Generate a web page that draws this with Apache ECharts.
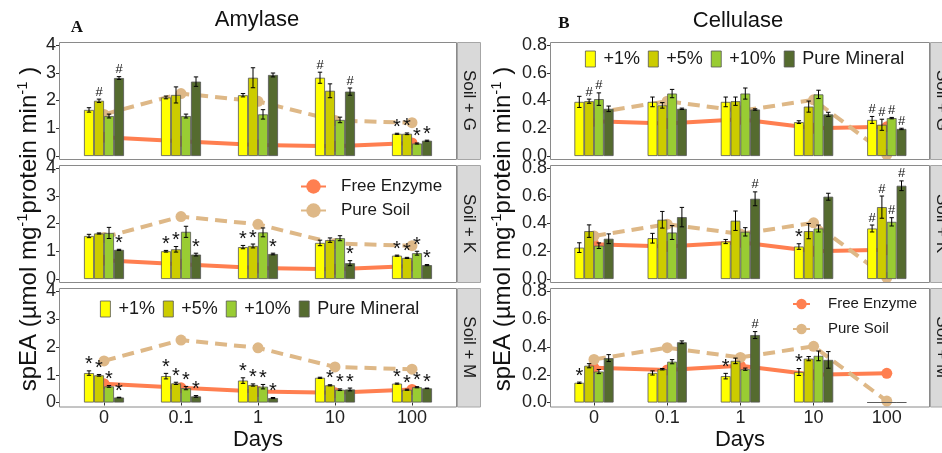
<!DOCTYPE html>
<html><head><meta charset="utf-8">
<script src="https://cdn.jsdelivr.net/npm/echarts@6/dist/echarts.min.js"></script>
<style>html,body{margin:0;padding:0;background:#fff}#c{width:942px;height:453px}</style>
</head><body><div id="c"></div>
<script>
// ---------- data ----------
const days = ['0', '0.1', '1', '10', '100'];
const mixes = ['+1%', '+5%', '+10%', 'Pure Mineral'];
const lineNames = ['Free Enzyme', 'Pure Soil'];
const rowLabels = ['Soil + G', 'Soil + K', 'Soil + M'];
const amyTicks = [0, 1, 2, 3, 4];
const celTicks = [0, 0.2, 0.4, 0.6, 0.8];

const amyFree = [0.68, 0.53, 0.40, 0.35, 0.47];
const amySoil = [1.50, 2.25, 1.97, 1.28, 1.20];
const celFree = [0.25, 0.235, 0.265, 0.20, 0.21];
const celSoil = [0.31, 0.395, 0.325, 0.405, 0.01];

// rows: +1%, +5%, +10%, Pure Mineral ; columns: days
const amyG_val = [[1.66, 2.11, 2.19, 2.82, 0.80],[1.99, 2.20, 2.82, 2.35, 0.80],[1.44, 1.44, 1.50, 1.30, 0.45],[2.81, 2.68, 2.92, 2.32, 0.55]];
const amyG_err = [[0.08, 0.05, 0.06, 0.20, 0.02],[0.06, 0.29, 0.36, 0.25, 0.03],[0.07, 0.07, 0.17, 0.10, 0.02],[0.05, 0.17, 0.07, 0.13, 0.02]];
const amyG_mark = [['', '', '', '#', '*'],['#', '', '', '', '*'],['', '', '', '', '*'],['#', '', '', '#', '*']];

const amyK_val = [[1.55, 1.00, 1.15, 1.30, 0.84],[1.64, 1.07, 1.19, 1.40, 0.76],[1.66, 1.70, 1.68, 1.47, 0.93],[1.05, 0.88, 0.90, 0.57, 0.50]];
const amyK_err = [[0.06, 0.03, 0.06, 0.10, 0.02],[0.02, 0.10, 0.07, 0.08, 0.02],[0.20, 0.20, 0.16, 0.09, 0.07],[0.02, 0.05, 0.03, 0.09, 0.02]];
const amyK_mark = [['', '*', '*', '', '*'],['', '*', '*', '', '*'],['', '', '', '', '*'],['*', '*', '*', '*', '*']];

const amyM_val = [[1.06, 0.95, 0.79, 0.89, 0.68],[0.98, 0.69, 0.63, 0.62, 0.46],[0.58, 0.52, 0.57, 0.46, 0.55],[0.18, 0.22, 0.16, 0.47, 0.51]];
const amyM_err = [[0.08, 0.10, 0.10, 0.02, 0.02],[0.03, 0.04, 0.04, 0.02, 0.02],[0.03, 0.06, 0.08, 0.03, 0.02],[0.01, 0.03, 0.02, 0.05, 0.01]];
const amyM_mark = [['*', '*', '*', '', '*'],['*', '*', '*', '*', '*'],['*', '*', '*', '*', '*'],['*', '*', '*', '*', '*']];

const celG_val = [[0.39, 0.39, 0.39, 0.244, 0.26],[0.395, 0.365, 0.395, 0.356, 0.225],[0.41, 0.45, 0.45, 0.444, 0.273],[0.34, 0.34, 0.335, 0.30, 0.195]];
const celG_err = [[0.04, 0.035, 0.035, 0.01, 0.025],[0.015, 0.02, 0.03, 0.04, 0.04],[0.045, 0.03, 0.04, 0.03, 0.005],[0.02, 0.005, 0.005, 0.015, 0.005]];
const celG_mark = [['', '', '', '', '#'],['#', '', '', '', '#'],['#', '', '', '', '#'],['', '', '', '', '#']];

const celK_val = [[0.226, 0.294, 0.27, 0.234, 0.364],[0.345, 0.427, 0.42, 0.345, 0.518],[0.24, 0.335, 0.34, 0.364, 0.412],[0.29, 0.446, 0.578, 0.593, 0.672]];
const celK_err = [[0.035, 0.035, 0.015, 0.02, 0.025],[0.045, 0.06, 0.07, 0.055, 0.08],[0.02, 0.05, 0.03, 0.025, 0.03],[0.035, 0.07, 0.05, 0.025, 0.035]];
const celK_mark = [['', '', '', '*', '#'],['', '', '', '', '#'],['', '', '', '', '#'],['', '', '#', '', '#']];

const celM_val = [[0.142, 0.213, 0.19, 0.22, 0],[0.265, 0.24, 0.30, 0.316, 0],[0.223, 0.294, 0.24, 0.336, 0],[0.32, 0.434, 0.486, 0.307, 0]];
const celM_err = [[0.005, 0.015, 0.02, 0.025, 0],[0.015, 0.005, 0.02, 0.015, 0],[0.015, 0.015, 0.008, 0.035, 0],[0.025, 0.01, 0.025, 0.06, 0]];
const celM_mark = [['*', '', '*', '*', ''],['', '', '', '', ''],['', '', '', '', ''],['', '', '#', '', '']];

// ---------- styling / layout ----------
const FONT = '"Liberation Sans", Arial, sans-serif';
const barColors = ['#FFFF00', '#CCCC00', '#99CC33', '#556B2F'];
const freeColor = '#FF7F50', soilColor = '#DEB887';
const cols = [
  {gridLeft: 65.5, gridWidth: 385, frameLeft: 59, frameWidth: 397, stripX: 457, bw: 10, max: 4, interval: 1, yOff: 6.5, ticks: amyTicks, dec: 0, free: amyFree, soil: amySoil},
  {gridLeft: 557.4, gridWidth: 366, frameLeft: 550, frameWidth: 379, stripX: 930, bw: 9.8, max: 0.8, interval: 0.2, yOff: 7.4, ticks: celTicks, dec: 1, free: celFree, soil: celSoil}
];
const rows = [
  {gridTop: 45, frameTop: 42, frameH: 117},
  {gridTop: 168, frameTop: 165, frameH: 117},
  {gridTop: 291.5, frameTop: 288, frameH: 118.5}
];
const panels = [
  {c: 0, r: 0, val: amyG_val, err: amyG_err, mark: amyG_mark},
  {c: 0, r: 1, val: amyK_val, err: amyK_err, mark: amyK_mark},
  {c: 0, r: 2, val: amyM_val, err: amyM_err, mark: amyM_mark},
  {c: 1, r: 0, val: celG_val, err: celG_err, mark: celG_mark},
  {c: 1, r: 1, val: celK_val, err: celK_err, mark: celK_mark},
  {c: 1, r: 2, val: celM_val, err: celM_err, mark: celM_mark}
];

const grid = [], xAxis = [], yAxis = [], series = [], graphic = [];
panels.forEach((p, i) => {
  const C = cols[p.c], R = rows[p.r];
  const bottomRow = p.r === 2;
  grid.push({left: C.gridLeft, width: C.gridWidth, top: R.gridTop, height: 111, containLabel: false, outerBoundsMode: 'none'});
  xAxis.push({type: 'category', gridIndex: i, data: days, boundaryGap: true, offset: bottomRow ? 3.5 : 0,
    axisLine: {show: false}, splitLine: {show: false},
    axisTick: {show: bottomRow, alignWithLabel: true, length: 3, lineStyle: {color: '#333'}},
    axisLabel: {show: bottomRow, fontSize: 18, fontFamily: FONT, color: '#222', margin: 3}});
  yAxis.push({type: 'value', gridIndex: i, min: 0, max: C.max, interval: C.interval, offset: C.yOff,
    axisLine: {show: false}, splitLine: {show: false},
    axisTick: {show: true, length: 3, lineStyle: {color: '#333'}},
    axisLabel: {fontSize: 18, fontFamily: FONT, color: '#222', margin: 3, formatter: v => v.toFixed(C.dec)}});
  // lines (behind bars)
  series.push({type: 'line', name: lineNames[0], xAxisIndex: i, yAxisIndex: i, data: C.free, z: 1,
    symbol: 'circle', symbolSize: 11, itemStyle: {color: freeColor}, lineStyle: {color: freeColor, width: 4}, silent: true});
  series.push({type: 'line', name: lineNames[1], xAxisIndex: i, yAxisIndex: i, data: C.soil, z: 1,
    symbol: 'circle', symbolSize: 11, itemStyle: {color: soilColor}, lineStyle: {color: soilColor, width: 4, type: [12, 7]}, silent: true});
  // bars
  mixes.forEach((m, s) => {
    series.push({type: 'bar', name: m, xAxisIndex: i, yAxisIndex: i, data: p.val[s], barWidth: C.bw, barGap: '0%', z: 2,
      itemStyle: {color: barColors[s], borderColor: '#555', borderWidth: 0.8}, silent: true});
  });
  // error bars and significance marks
  const ed = [];
  p.val.forEach((arr, s) => arr.forEach((v, d) => ed.push([d, s, v, p.err[s][d]])));
  series.push({type: 'custom', xAxisIndex: i, yAxisIndex: i, z: 3, silent: true, data: ed,
    encode: {x: 0, y: 2},
    renderItem: (params, api) => {
      const d = api.value(0), s = api.value(1), v = api.value(2), e = api.value(3);
      const off = (s - 1.5) * C.bw;
      const top = api.coord([d, v + e]), bot = api.coord([d, v - e]);
      const x = top[0] + off;
      const ch = [];
      if (e > 0) {
        const ls = {stroke: '#000', lineWidth: 1};
        ch.push({type: 'line', shape: {x1: x, y1: top[1], x2: x, y2: bot[1]}, style: ls});
        ch.push({type: 'line', shape: {x1: x - 2.2, y1: top[1], x2: x + 2.2, y2: top[1]}, style: ls});
        ch.push({type: 'line', shape: {x1: x - 2.2, y1: bot[1], x2: x + 2.2, y2: bot[1]}, style: ls});
      }
      const mk = p.mark[s][d];
      if (mk === '*') {
        ch.push({type: 'text', style: {text: '*', x: x, y: top[1] - 6, align: 'center', verticalAlign: 'middle', fontSize: 20, fontFamily: FONT, fill: '#111'}});
      } else if (mk === '#') {
        ch.push({type: 'text', style: {text: '#', x: x, y: top[1] - 7, align: 'center', verticalAlign: 'middle', fontSize: 13, fontFamily: FONT, fill: '#111'}});
      }
      return {type: 'group', children: ch};
    }});
  // frame
  graphic.push({type: 'rect', z: 50, silent: true, shape: {x: C.frameLeft + 0.5, y: R.frameTop + 0.5, width: C.frameWidth, height: R.frameH},
    style: {fill: 'none', stroke: '#8a8a8a', lineWidth: 1}});
  // strip
  graphic.push({type: 'rect', z: 50, silent: true, shape: {x: C.stripX + 0.5, y: R.frameTop + 0.5, width: 23, height: R.frameH},
    style: {fill: '#d9d9d9', stroke: '#a6a6a6', lineWidth: 1}});
  graphic.push({type: 'text', z: 51, silent: true, x: C.stripX + 12, y: R.frameTop + R.frameH / 2, rotation: -Math.PI / 2,
    style: {text: rowLabels[p.r], align: 'center', verticalAlign: 'middle', fontSize: 17, fontFamily: FONT, fill: '#1a1a1a'}});
});

const yTitle = '{a|spEA (µmol mg}{s|-1}{a|protein min}{s|-1}{a| )}';
const yRich = {a: {fontSize: 24, fontFamily: FONT, fill: '#111'}, s: {fontSize: 15, fontFamily: FONT, fill: '#111', padding: [0, 0, 12, 0]}};
[[29, 229], [503, 229]].forEach(pt => graphic.push({type: 'text', silent: true, x: pt[0], y: pt[1], rotation: Math.PI / 2,
  style: {text: yTitle, rich: yRich, align: 'center', verticalAlign: 'middle', fill: '#111'}}));
graphic.push({type: 'text', silent: true, x: 257, y: 20, style: {text: 'Amylase', align: 'center', verticalAlign: 'middle', fontSize: 22, fontFamily: FONT, fill: '#111'}});
graphic.push({type: 'text', silent: true, x: 738, y: 21, style: {text: 'Cellulase', align: 'center', verticalAlign: 'middle', fontSize: 22, fontFamily: FONT, fill: '#111'}});
graphic.push({type: 'text', silent: true, x: 77, y: 28, style: {text: 'A', align: 'center', verticalAlign: 'middle', fontSize: 17, fontWeight: 'bold', fontFamily: '"Liberation Serif", "Times New Roman", serif', fill: '#111'}});
graphic.push({type: 'text', silent: true, x: 564, y: 24, style: {text: 'B', align: 'center', verticalAlign: 'middle', fontSize: 17, fontWeight: 'bold', fontFamily: '"Liberation Serif", "Times New Roman", serif', fill: '#111'}});
graphic.push({type: 'text', silent: true, x: 258, y: 440, style: {text: 'Days', align: 'center', verticalAlign: 'middle', fontSize: 22, fontFamily: FONT, fill: '#111'}});
graphic.push({type: 'text', silent: true, x: 740, y: 440, style: {text: 'Days', align: 'center', verticalAlign: 'middle', fontSize: 22, fontFamily: FONT, fill: '#111'}});

const barLegend = (left, top) => ({data: mixes, left: left, top: top, padding: 0, icon: 'rect', itemWidth: 10, itemHeight: 16, itemGap: 8,
  selectedMode: false, itemStyle: {borderWidth: 0.8, borderColor: '#555'},
  textStyle: {fontSize: 18, fontFamily: FONT, color: '#1a1a1a', padding: [0, 0, 0, 3]}});
const lineLegend = (left, top, iw, ih, gap, fs, pad) => ({data: lineNames, orient: 'vertical', left: left, top: top, padding: 0,
  itemWidth: iw, itemHeight: ih, itemGap: gap, selectedMode: false, lineStyle: {type: 'solid'},
  textStyle: {fontSize: fs, fontFamily: FONT, color: '#1a1a1a', padding: [0, 0, 0, pad]}});

const chart = echarts.init(document.getElementById('c'), null, {renderer: 'canvas'});
chart.setOption({
  backgroundColor: '#fff',
  animation: false,
  grid, xAxis, yAxis, series, graphic,
  legend: [barLegend(100, 300), barLegend(585, 50), lineLegend(300, 178, 25, 18, 7, 17, 10), lineLegend(792, 296.5, 17, 13, 10, 15, 13)]
});
</script>
</body></html>
